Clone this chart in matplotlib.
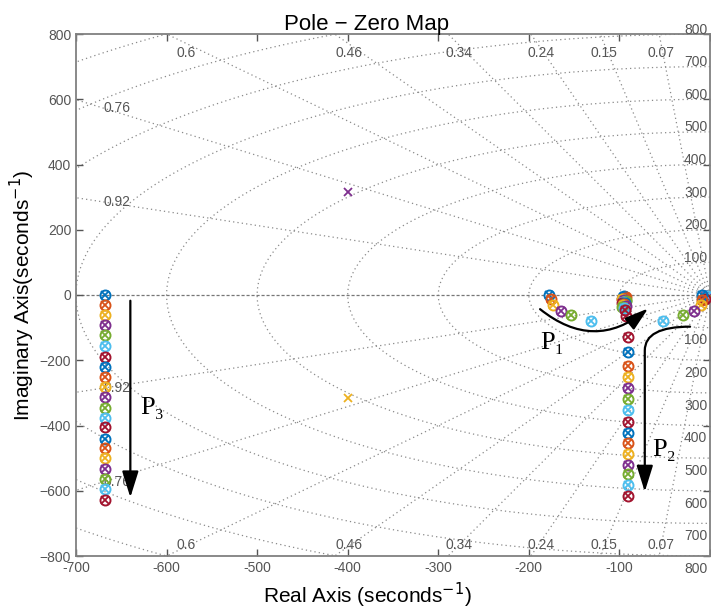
import numpy as np
import matplotlib.pyplot as plt
from matplotlib.patches import FancyArrowPatch
from matplotlib.path import Path

plt.rcParams['font.family'] = ['Liberation Sans', 'DejaVu Sans']

# MATLAB default colour order, cycled over the 21 systems
colors = ['#0072BD', '#D95319', '#EDB120', '#7E2F8E', '#77AC30', '#4DBEEE', '#A2142F']

# branch P3 (left column), systems 0..20
p3_re = [-668] * 21
p3_im = [0, -31, -61, -92, -123, -156, -189, -222, -252, -283, -314,
         -345, -376, -406, -440, -470, -501, -532, -565, -596, -629]

# branch P1 (systems 0..5) and its mirror near the origin
p1_re = [-178, -176, -173, -165, -153, -131]
p1_im = [0, -13, -31, -48, -61, -79]
pr_re = [-9, -9, -10, -18, -30, -52]
pr_im = [0, -15, -31, -48, -61, -79]

# branch P2 (systems 6..20)
p2_re = [-91] * 15
p2_im = [-130, -174, -218, -251, -286, -320, -353, -389, -422, -455,
         -486, -520, -550, -583, -616]

# pole/zero cluster near -95 (systems 0..20)
c1_re = [-95, -93, -96, -97, -93, -95, -93, -96, -94, -97, -95,
         -93, -96, -97, -94, -95, -96, -93, -97, -95, -94]
c1_im = [-3, -6, -9, -12, -15, -18, -64, -5, -8, -11, -14,
         -17, -20, -23, -26, -29, -32, -35, -38, -41, -45]

# cluster at the origin (systems 0..6)
c0_re = [-4, -5, -6, -4, -5, -3, -6]
c0_im = [-2, -6, -10, -4, -8, -3, -12]

# lone complex pole pair
cp_re = [-400, -400]
cp_im = [316, -316]
cp_col = ['#7E2F8E', '#EDB120']

# s-grid
zetas = [0.07, 0.15, 0.24, 0.34, 0.46, 0.6, 0.76, 0.92]
wns = [100, 200, 300, 400, 500, 600, 700, 800, 900, 1000]
wn_labels = [100, 200, 300, 400, 500, 600, 700, 800]
# x positions of the damping labels along the top / bottom edge
zeta_lab_x = {0.07: -54, 0.15: -117, 0.24: -186, 0.34: -277, 0.46: -399, 0.6: -578}

fig = plt.figure(figsize=(7.11, 6.10), dpi=100)
ax = fig.add_axes([76 / 711, 54 / 610, 634 / 711, 522 / 610])
ax.set_xlim(-700, 0)
ax.set_ylim(-800, 800)

gcol = '#8a8a8a'
th = np.linspace(np.pi / 2, 3 * np.pi / 2, 400)
for r in wns:
    ax.plot(r * np.cos(th), r * np.sin(th), ls=(0, (1, 2.5)), lw=0.9, color=gcol, zorder=1)
R = np.array([0, 1500])
for z in zetas:
    w = np.sqrt(1 - z ** 2)
    ax.plot(-z * R, w * R, ls=(0, (1, 2.5)), lw=0.9, color=gcol, zorder=1)
    ax.plot(-z * R, -w * R, ls=(0, (1, 2.5)), lw=0.9, color=gcol, zorder=1)
ax.axhline(0, ls=(0, (2.5, 1.5)), lw=0.9, color='#777777', zorder=1)

lcol = '#555555'
# damping labels
for z in zetas:
    w = np.sqrt(1 - z ** 2)
    if z > 0.7:
        x = -670
        y = x * w / -z
        ax.text(x, y, f'{z:g}', fontsize=10, color=lcol, ha='left', va='center')
        ax.text(x, -y, f'{z:g}', fontsize=10, color=lcol, ha='left', va='center')
    else:
        x = zeta_lab_x[z]
        ax.text(x, 742, f'{z:g}', fontsize=10, color=lcol, ha='center', va='center')
        ax.text(x, -765, f'{z:g}', fontsize=10, color=lcol, ha='center', va='center')
# natural frequency labels
for r in wn_labels:
    ax.text(-3, r - 8, str(r), fontsize=10, color=lcol, ha='right', va='bottom', clip_on=False)
    ax.text(-3, -r - 18, str(r), fontsize=10, color=lcol, ha='right', va='top', clip_on=False)


def pz(re, im, col):
    ax.plot(re, im, ls='none', marker='o', ms=7.2, mfc='none', mec=col, mew=1.4, zorder=3)
    ax.plot(re, im, ls='none', marker='x', ms=5.5, mec=col, mew=1.3, zorder=3)


for k in range(21):
    col = colors[k % 7]
    pz(c1_re[k], c1_im[k], col)
    pz(p3_re[k], p3_im[k], col)
for k in range(7):
    pz(c0_re[k], c0_im[k], colors[k])
for k in range(6):
    pz(p1_re[k], p1_im[k], colors[k])
    pz(pr_re[k], pr_im[k], colors[k])
for k in range(15):
    pz(p2_re[k], p2_im[k], colors[(k + 6) % 7])
for k in range(2):
    ax.plot(cp_re[k], cp_im[k], ls='none', marker='x', ms=6, mec=cp_col[k], mew=1.3, zorder=3)

# arrows
astyle = '-|>,head_length=0.8,head_width=0.25'
ax.add_patch(FancyArrowPatch((-640, -9), (-640, -629), arrowstyle=astyle,
                             mutation_scale=20, lw=1.6, color='black', zorder=4))
ax.add_patch(FancyArrowPatch((-190, -38), (-66, -36), connectionstyle='arc3,rad=0.42',
                             arrowstyle=astyle, mutation_scale=18, lw=1.6, color='black', zorder=4))
p2_path = Path([(-22, -97), (-72, -97), (-72, -170), (-72, -210), (-72, -603)],
               [Path.MOVETO, Path.CURVE3, Path.CURVE3, Path.LINETO, Path.LINETO])
ax.add_patch(FancyArrowPatch(path=p2_path, arrowstyle=astyle, mutation_scale=20,
                             lw=1.6, color='black', zorder=4))

serif = ['Liberation Serif', 'DejaVu Serif']
ax.text(-174, -148, 'P\u2081', fontsize=19, family=serif, ha='center', va='center')
ax.text(-51, -475, 'P\u2082', fontsize=19, family=serif, ha='center', va='center')
ax.text(-616, -347, 'P\u2083', fontsize=19, family=serif, ha='center', va='center')

ax.set_xticks([-700, -600, -500, -400, -300, -200, -100, 0])
ax.set_xticklabels(['-700', '-600', '-500', '-400', '-300', '-200', '-100', ''])
ax.set_yticks([-800, -600, -400, -200, 0, 200, 400, 600, 800])
ax.tick_params(direction='in', length=5, width=1, colors=lcol, labelsize=10,
               top=True, right=True, labelcolor=lcol)
for s in ax.spines.values():
    s.set_color('#808080')
    s.set_linewidth(1.3)

ax.set_title('Pole \u2212 Zero Map', fontsize=16, pad=3, x=0.459)
ax.set_xlabel('Real Axis (seconds$^{-1}$)', fontsize=15, labelpad=2)
ax.xaxis.set_label_coords(0.459, -0.047)
ax.set_ylabel('Imaginary Axis(seconds$^{-1}$)', fontsize=15, labelpad=2)

fig.savefig('out.png', dpi=100)
